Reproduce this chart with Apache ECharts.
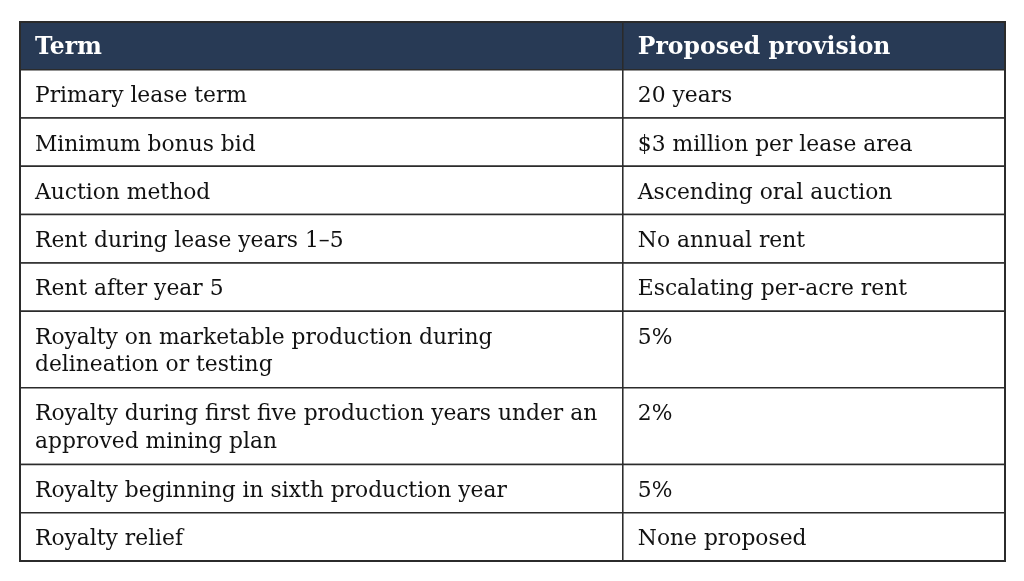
<!DOCTYPE html>
<html>
<head>
<meta charset="utf-8">
<script src="https://cdn.jsdelivr.net/npm/echarts@6/dist/echarts.min.js"></script>
<style>
  html, body { margin: 0; padding: 0; background: #fff; }
  #chart-container { width: 1024px; height: 581px; }
</style>
</head>
<body>
<div id="chart-container"></div>
<script>
// table content
var headers = ['Term', 'Proposed provision'];
var terms = [
    'Primary lease term',
    'Minimum bonus bid',
    'Auction method',
    'Rent during lease years 1–5',
    'Rent after year 5',
    'Royalty on marketable production during\ndelineation or testing',
    'Royalty during first five production years under an\napproved mining plan',
    'Royalty beginning in sixth production year',
    'Royalty relief'
];
var provisions = [
    '20 years',
    '$3 million per lease area',
    'Ascending oral auction',
    'No annual rent',
    'Escalating per-acre rent',
    '5%',
    '2%',
    '5%',
    'None proposed'
];

var HEADER_H = 48;
var colSplit = 0.612;

// row extents in table units (header first)
var rowTops = [0];
var rowHeights = [HEADER_H];
terms.forEach(function (t) {
    var lines = t.split('\n').length;
    rowTops.push(rowTops[rowTops.length - 1] + rowHeights[rowHeights.length - 1]);
    rowHeights.push(20 + 28.5 * lines);
});
var totalH = rowTops[rowTops.length - 1] + rowHeights[rowHeights.length - 1];

var cells = [];
for (var r = 0; r <= terms.length; r++) {
    var txt0 = r === 0 ? headers[0] : terms[r - 1];
    var txt1 = r === 0 ? headers[1] : provisions[r - 1];
    cells.push([0, colSplit, rowTops[r], rowTops[r] + rowHeights[r], txt0, r]);
    cells.push([colSplit, 1, rowTops[r], rowTops[r] + rowHeights[r], txt1, r]);
}

var dom = document.getElementById('chart-container');
var myChart = echarts.init(dom, null, { renderer: 'canvas' });

var option = {
    animation: false,
    grid: { left: 20, right: 19, top: 22, bottom: 20 },
    xAxis: { type: 'value', min: 0, max: 1, show: false },
    yAxis: { type: 'value', min: 0, max: totalH, inverse: true, show: false },
    series: [
        {
            type: 'custom',
            data: cells,
            renderItem: function (params, api) {
                var p0 = api.coord([api.value(0), api.value(2)]);
                var p1 = api.coord([api.value(1), api.value(3)]);
                var row = api.value(5);
                var isHead = row === 0;
                var text = cells[params.dataIndex][4];
                return {
                    type: 'group',
                    children: [
                        {
                            type: 'rect',
                            shape: { x: p0[0], y: p0[1], width: p1[0] - p0[0], height: p1[1] - p0[1] },
                            style: {
                                fill: isHead ? '#283a55' : '#ffffff',
                                stroke: '#2b2b2b',
                                lineWidth: 1.5
                            }
                        },
                        {
                            type: 'text',
                            x: p0[0] + 15,
                            y: p0[1] + (isHead ? 12 : 13),
                            style: {
                                text: text,
                                fill: isHead ? '#ffffff' : '#111111',
                                font: isHead ? 'bold 23.5px "DejaVu Serif"' : '21.8px "DejaVu Serif"',
                                lineHeight: 27.7,
                                verticalAlign: 'top',
                                align: 'left'
                            }
                        }
                    ]
                };
            }
        },
        {
            type: 'custom',
            data: [[0, 1, 0, totalH]],
            z: 3,
            renderItem: function (params, api) {
                var p0 = api.coord([api.value(0), api.value(2)]);
                var p1 = api.coord([api.value(1), api.value(3)]);
                return {
                    type: 'rect',
                    shape: { x: p0[0], y: p0[1], width: p1[0] - p0[0], height: p1[1] - p0[1] },
                    style: { fill: null, stroke: '#2b2b2b', lineWidth: 2 }
                };
            }
        }
    ]
};

myChart.setOption(option);
window.addEventListener('resize', myChart.resize);
</script>
</body>
</html>
